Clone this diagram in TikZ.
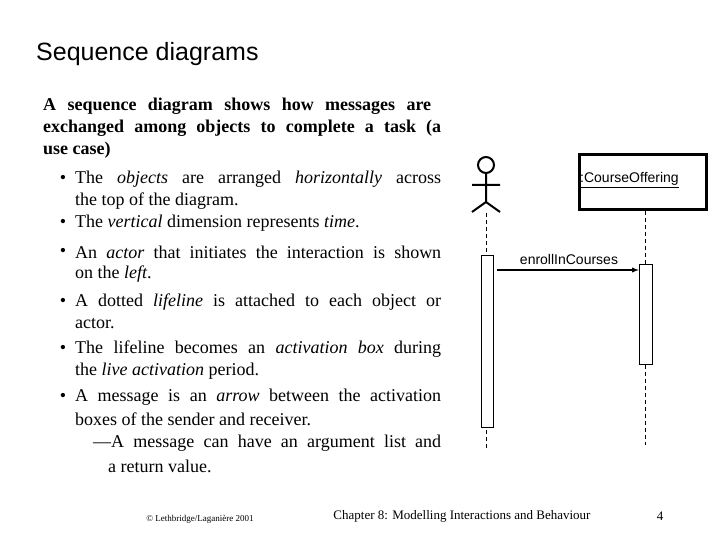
\documentclass[tikz,border=0pt]{standalone}
\usepackage{fontspec}
\setmainfont{Liberation Serif}
\newfontfamily\arial{Liberation Sans}
\begin{document}
\begin{tikzpicture}[x=1pt,y=-1pt,
  ln/.style={anchor=west,inner sep=0pt,font=\fontsize{18}{20}\selectfont},
  bl/.style={anchor=center,inner sep=0pt,font=\fontsize{18}{20}\selectfont},
  life/.style={dashed,dash pattern=on 4pt off 3pt,thin},
  act/.style={draw,fill=white,thin}]
\useasboundingbox (0,0) rectangle (720,540);
\node[anchor=west,inner sep=0pt,font=\arial\fontsize{25}{28}\selectfont] (title) at (36,54) {Sequence diagrams};
\def\W{398pt}
\node[ln,font=\bfseries\fontsize{18}{20}\selectfont] (l1) at (43,106) {\makebox[388pt][s]{A sequence diagram shows how messages are}};
\node[ln,font=\bfseries\fontsize{18}{20}\selectfont] (l2) at (43,128) {\makebox[\W][s]{exchanged among objects to complete a task (a}};
\node[ln,font=\bfseries\fontsize{18}{20}\selectfont] (l3) at (43,150) {use case)};
\foreach \y/\n in {179/b1,223/b2,252/b3,302/b4,349/b5,397/b6} \node[bl] (\n) at (63,\y) {\textbullet};
\node[ln] (l4) at (75,179) {\makebox[366pt][s]{The \textit{objects} are arranged \textit{horizontally} across}};
\node[ln] (l5) at (75,201) {the top of the diagram.};
\node[ln] (l6) at (75,223) {The \textit{vertical} dimension represents \textit{time}.};
\node[ln] (l7) at (75,252) {\makebox[366pt][s]{An \textit{actor} that initiates the interaction is shown}};
\node[ln] (l8) at (75,274) {on the \textit{left}.};
\node[ln] (l9) at (75,302) {\makebox[366pt][s]{A dotted \textit{lifeline} is attached to each object or}};
\node[ln] (l10) at (75,324) {actor.};
\node[ln] (l11) at (75,349) {\makebox[366pt][s]{The lifeline becomes an \textit{activation box} during}};
\node[ln] (l12) at (75,371) {the \textit{live activation} period.};
\node[ln] (l13) at (75,397) {\makebox[366pt][s]{A message is an \textit{arrow} between the activation}};
\node[ln] (l14) at (75,419) {boxes of the sender and receiver.};
\node[ln] (l15) at (93,443) {\makebox[348pt][s]{—A message can have an argument list and}};
\node[ln] (l16) at (108,466) {a return value.};
% actor
\draw[line width=2pt] (486,165) circle (8);
\draw[line width=2pt] (486,173) -- (486,202) (472,185) -- (500,185) (472,212) -- (486,202) -- (500,212);
\coordinate (at) at (486,213);
\coordinate (ab) at (486,448);
\draw[life] (at) -- (ab);
\node[act,minimum width=12pt,minimum height=172pt,inner sep=0pt] (aact) at (487,341) {};
% object
\node[draw,line width=2.2pt,minimum width=127pt,minimum height=55pt,inner sep=0pt] (obj) at (643,182) {};
\node[anchor=west,inner sep=0pt,font=\arial\fontsize{14}{16}\selectfont] (objt) at (580,180) {\underline{:CourseOffering}};
\coordinate (ob) at (645,445);
\draw[life] (obj.south -| ob) -- (ob);
\node[act,minimum width=13pt,minimum height=100pt,inner sep=0pt] (oact) at (645.5,314) {};
% message
\draw[line width=1.3pt,-latex] (aact.east |- 0,270) ++(4,0) coordinate (ms) -- (oact.west |- 0,270);
\node[inner sep=0pt,font=\arial\fontsize{14}{16}\selectfont] (msg) at (569,259) {enrollInCourses};
% footer
\node[inner sep=0pt,font=\fontsize{9}{10}\selectfont] (f1) at (200,519) {© Lethbridge/Laganière 2001};
\node[inner sep=0pt,font=\fontsize{13}{15}\selectfont] (f2) at (462,516) {Chapter 8: Modelling Interactions and Behaviour};
\node[inner sep=0pt,font=\fontsize{13}{15}\selectfont] (f3) at (660,516) {4};
\end{tikzpicture}
\end{document}
